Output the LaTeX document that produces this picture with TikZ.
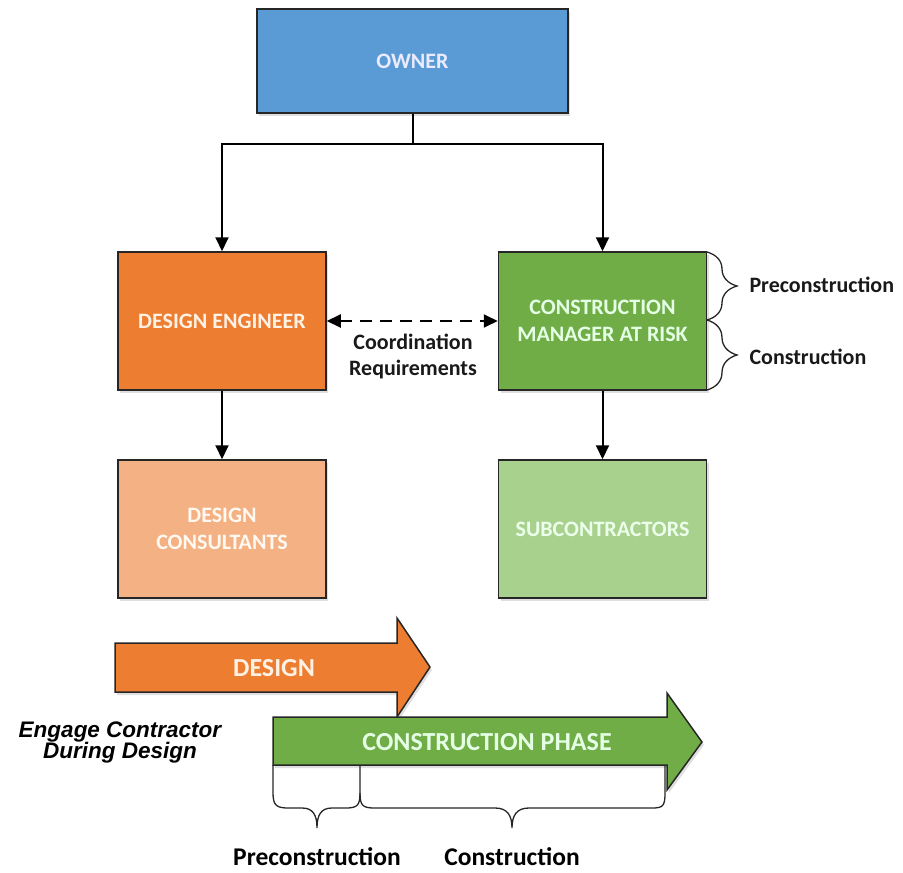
\documentclass[tikz,border=0pt]{standalone}
\usepackage{fontspec}
\setmainfont{Carlito}
\newfontfamily\arialfont{Liberation Sans}
\usetikzlibrary{arrows.meta,shadows,decorations.pathreplacing}

\definecolor{ownerblue}{HTML}{5B9BD5}
\definecolor{designorange}{HTML}{ED7D31}
\definecolor{cmgreen}{HTML}{70AD47}
\definecolor{consultorange}{HTML}{F4B183}
\definecolor{subgreen}{HTML}{A9D18E}
\definecolor{edgegray}{HTML}{262626}

\begin{document}
\begin{tikzpicture}[x=1pt, y=-1pt,
    box/.style={draw=edgegray, line width=1.5pt, minimum width=208pt, minimum height=138pt,
      align=center, inner sep=0pt, font=\bfseries\fontsize{22}{27}\selectfont,
      drop shadow={shadow xshift=2pt, shadow yshift=-3pt, opacity=0.25}},
    link/.style={line width=2pt, -{Triangle[length=14pt, width=13pt]}},
    phase/.style={draw=edgegray, line width=1.5pt,
      drop shadow={shadow xshift=2pt, shadow yshift=-3pt, opacity=0.25}},
    phaselabel/.style={font=\bfseries\fontsize{26}{30}\selectfont},
    bracket/.style={line width=1.3pt, edgegray},
    note/.style={font=\bfseries\fontsize{22}{26}\selectfont, text=black!90}]
  \useasboundingbox (0,0) rectangle (903,873);

  % organisation
  \node[box, fill=ownerblue, text=blue!8, minimum width=311pt, minimum height=104pt] (owner) at (412.5,61) {OWNER};
  \node[box, fill=designorange, text=orange!10] (engineer) at (222,321) {DESIGN ENGINEER};
  \node[box, fill=cmgreen, text=green!10] (cmar) at (602.5,321) {CONSTRUCTION\\MANAGER AT RISK};
  \node[box, fill=consultorange, text=orange!5] (consultants) at (222,529) {DESIGN\\CONSULTANTS};
  \node[box, fill=subgreen, text=green!8] (subs) at (602.5,529) {SUBCONTRACTORS};

  \coordinate (split) at (412.5,144);
  \draw[line width=2pt] (owner.south) -- (split);
  \draw[link] (split) -| (engineer.north);
  \draw[link] (split) -| (cmar.north);
  \draw[link] (engineer.south) -- (consultants.north);
  \draw[link] (cmar.south) -- (subs.north);

  \draw[line width=2pt, dash pattern=on 12pt off 8pt,
    {Triangle[length=14pt, width=13pt]}-{Triangle[length=14pt, width=13pt]}] (engineer.east) -- (cmar.west);
  \node[note, align=center] (coord) at (413,356) {Coordination\\Requirements};

  % braces beside the CM box
  \draw[bracket, decorate, decoration={brace, amplitude=30pt}] (707,252) -- (707,320);
  \draw[bracket, decorate, decoration={brace, amplitude=30pt}] (707,320) -- (707,390);
  \node[note, anchor=west] (pre_side) at (746,285) {Preconstruction};
  \node[note, anchor=west] (con_side) at (746,357) {Construction};

  % phases
  \draw[phase, fill=designorange] (115,643) -- (397,643) -- (397,618) -- (430,667) -- (397,717)
    -- (397,692) -- (115,692) -- cycle;
  \node[phaselabel, text=orange!10] (design) at (274,668) {DESIGN};
  \draw[phase, fill=cmgreen] (273,717) -- (667,717) -- (667,693) -- (702,742) -- (667,790)
    -- (667,765) -- (273,765) -- cycle;
  \node[phaselabel, text=green!10] (construction) at (487,742) {CONSTRUCTION PHASE};

  \node[font=\arialfont\bfseries\itshape\fontsize{22.5}{21}\selectfont, align=center] (engage) at (120,742)
    {Engage Contractor\\During Design};

  % braces under the phase arrow
  \draw[bracket] (273,765) -- (273,793) .. controls (273,806) and (277,808) .. (289,808) -- (302,808)
    .. controls (313,808) and (317,815) .. (317,828) .. controls (317,815) and (321,808) .. (332,808)
    -- (345,808) .. controls (357,808) and (360,806) .. (360,793) -- (360,765);
  \draw[bracket] (360,793) .. controls (360,806) and (363,808) .. (375,808) -- (495,808)
    .. controls (507,808) and (512,815) .. (512,828) .. controls (512,815) and (517,808) .. (529,808)
    -- (652,808) .. controls (663,808) and (665,806) .. (665,793) -- (665,765);
  \node[font=\bfseries\fontsize{25.5}{28}\selectfont] (pre_bottom) at (317,857) {Preconstruction};
  \node[font=\bfseries\fontsize{25.5}{28}\selectfont] (con_bottom) at (512,857) {Construction};
\end{tikzpicture}
\end{document}
